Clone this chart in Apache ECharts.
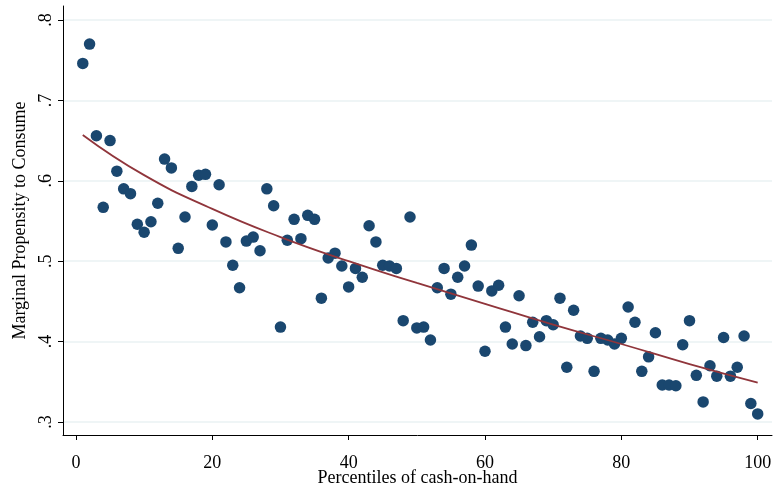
<!DOCTYPE html>
<html>
<head>
<meta charset="utf-8">
<script src="https://cdn.jsdelivr.net/npm/echarts@6/dist/echarts.min.js"></script>
<style>
  html, body { margin: 0; padding: 0; background: #fff; }
  #chart { width: 774px; height: 489px; }
</style>
</head>
<body>
<div id="chart"></div>
<script>
// percentiles 1..100 and MPC
const percentiles = [];
for (let i = 1; i <= 100; i++) percentiles.push(i);
const mpc = [
  0.746, 0.770, 0.656, 0.567, 0.650, 0.612, 0.590, 0.584, 0.546, 0.536,
  0.549, 0.572, 0.627, 0.616, 0.516, 0.555, 0.593, 0.607, 0.608, 0.545,
  0.595, 0.524, 0.495, 0.467, 0.525, 0.530, 0.513, 0.590, 0.569, 0.418,
  0.526, 0.552, 0.528, 0.557, 0.552, 0.454, 0.504, 0.510, 0.494, 0.468,
  0.491, 0.480, 0.544, 0.524, 0.495, 0.494, 0.491, 0.426, 0.555, 0.417,
  0.418, 0.402, 0.467, 0.491, 0.459, 0.480, 0.494, 0.520, 0.469, 0.388,
  0.463, 0.470, 0.418, 0.397, 0.457, 0.395, 0.424, 0.406, 0.426, 0.421,
  0.454, 0.368, 0.439, 0.407, 0.404, 0.363, 0.404, 0.402, 0.397, 0.404,
  0.443, 0.424, 0.363, 0.381, 0.411, 0.346, 0.346, 0.345, 0.396, 0.426,
  0.358, 0.325, 0.370, 0.357, 0.405, 0.357, 0.368, 0.407, 0.323, 0.310
];
// fitted curve
const fitX = [1, 10, 20, 30, 40, 50, 60, 70, 80, 90, 100];
const fitY = [0.657, 0.607, 0.565, 0.530, 0.500, 0.473, 0.447, 0.421, 0.397, 0.372, 0.349];

const xTicks = [0, 20, 40, 60, 80, 100];
const yTicks = [0.3, 0.4, 0.5, 0.6, 0.7, 0.8];

const font = '"Liberation Serif", "Times New Roman", serif';

const chart = echarts.init(document.getElementById('chart'));
chart.setOption({
  backgroundColor: '#fff',
  animation: false,
  grid: { left: 63, right: 2, top: 6, bottom: 54, outerBoundsMode: 'none', containLabel: false },
  xAxis: {
    type: 'value',
    min: -1.9,
    max: 102.1,
    name: 'Percentiles of cash-on-hand',
    nameLocation: 'middle',
    nameGap: 34,
    nameMoveOverlap: false,
    nameTextStyle: { fontFamily: font, fontSize: 18, color: '#000' },
    axisLine: { show: true, onZero: false, lineStyle: { color: '#000', width: 1 } },
    axisTick: { show: true, length: 5, customValues: xTicks, lineStyle: { color: '#000' } },
    axisLabel: { customValues: xTicks, margin: 19, fontFamily: font, fontSize: 18, color: '#000' },
    splitLine: { show: false }
  },
  yAxis: {
    type: 'value',
    min: 0.2838,
    max: 0.8174,
    name: 'Marginal Propensity to Consume',
    nameLocation: 'middle',
    nameGap: 34,
    nameMoveOverlap: false,
    nameTextStyle: { fontFamily: font, fontSize: 18, color: '#000' },
    axisLine: { show: true, onZero: false, lineStyle: { color: '#000', width: 1 } },
    axisTick: { show: true, length: 5, customValues: yTicks, lineStyle: { color: '#000' } },
    axisLabel: {
      customValues: yTicks,
      rotate: 90,
      margin: 8,
      fontFamily: font,
      fontSize: 18,
      color: '#000',
      formatter: v => v.toFixed(1).replace(/^0/, '')
    },
    splitLine: { show: true, lineStyle: { color: '#eaf2f3', width: 1.5 } }
  },
  series: [
    {
      type: 'scatter',
      data: percentiles.map((p, i) => [p, mpc[i]]),
      symbolSize: 11.5,
      itemStyle: { color: '#1a476f', opacity: 1 },
      z: 2
    },
    {
      type: 'line',
      data: fitX.map((x, i) => [x, fitY[i]]),
      smooth: true,
      showSymbol: false,
      lineStyle: { color: '#90353b', width: 1.8 },
      z: 3
    }
  ]
});
</script>
</body>
</html>
